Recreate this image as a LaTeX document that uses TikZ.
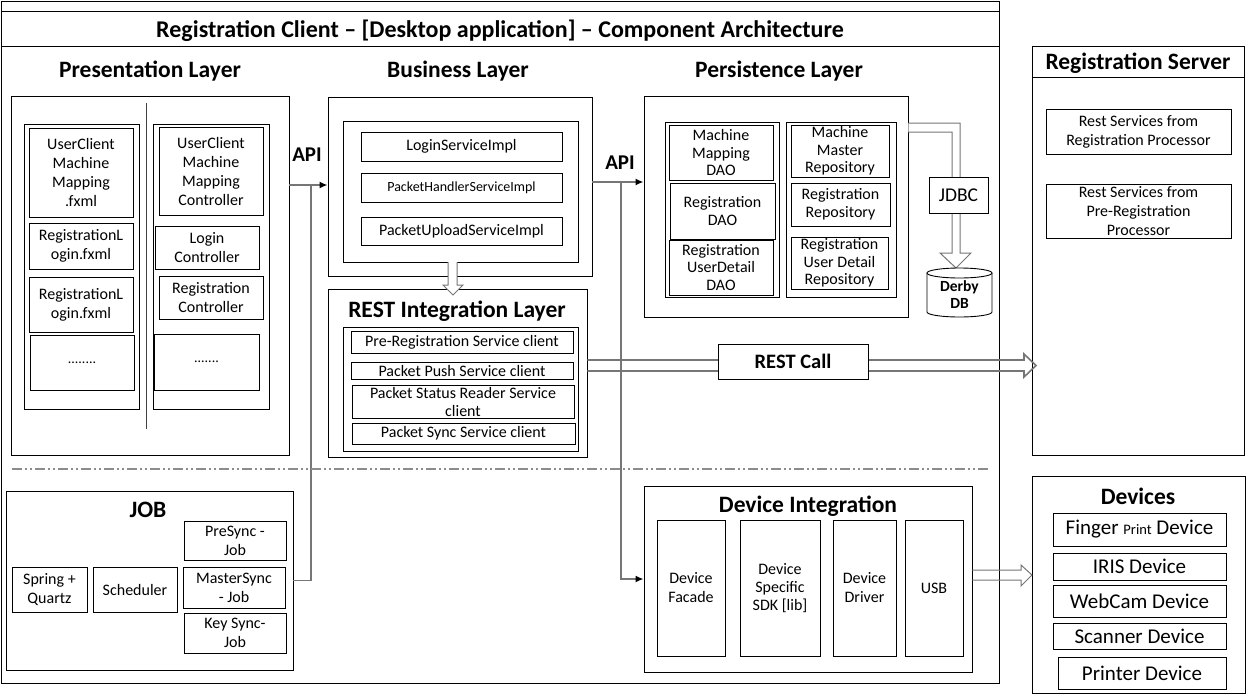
\documentclass[tikz,border=0pt]{standalone}
\usepackage{fontspec}
\setmainfont{Carlito}
\usetikzlibrary{arrows.meta}
\newcommand{\mybox}[7][]{\node[bx,minimum width={(#5-#3)*1pt},minimum height={(#6-#4)*1pt},#1] (#2) at ({(#3+#5)/2},{(#4+#6)/2}) {#7};}
\begin{document}
\begin{tikzpicture}[x=1pt,y=-1pt,
  bx/.style={draw=black, line width=0.9pt, inner sep=0pt, align=center, font=\fontsize{16}{19}\selectfont},
  hd/.style={inner sep=0pt, text depth=0pt, font=\bfseries\fontsize{23.5}{26}\selectfont},
  titlef/.style={text depth=0pt, font=\bfseries\fontsize{24}{26}\selectfont},
  apif/.style={inner sep=0pt, font=\bfseries\fontsize{21}{23}\selectfont},
  dvf/.style={font=\fontsize{21}{23}\selectfont},
  pf/.style={font=\fontsize{16}{17.5}\selectfont},
  conn/.style={draw={rgb,255:red,118;green,118;blue,118}, line width=1.6pt},
  hollow/.style={draw={rgb,255:red,118;green,118;blue,118}, line width=1pt, line join=miter},
  tip/.style={-{Latex[black,length=8pt,width=7pt]}}
]
\useasboundingbox (0,0) rectangle (1247,699);
\fill[white] (0,0) rectangle (1247,699);

% ---------- client frame ----------
\mybox{client}{1}{1}{999}{683}{}
\mybox[titlef]{titlebar}{1}{11}{999}{46}{Registration Client – [Desktop application] – Component Architecture}

\node[hd] (ptitle) at (150,69) {Presentation Layer};
\node[hd] (btitle) at (458,69) {Business Layer};
\node[hd] (stitle) at (779,69) {Persistence Layer};

% ---------- presentation ----------
\mybox{pres}{11}{96}{289}{455}{}
\mybox{pleft}{24}{124}{139}{409}{}
\mybox{pright}{153}{124}{269}{409}{}
\draw[line width=0.9pt, black!75] (146,103) -- (146,429);
\mybox{ucm}{29}{128}{133}{217}{UserClient\\Machine\\Mapping\\.fxml}
\mybox{rlA}{29}{223}{133}{269}{RegistrationL\\ogin.fxml}
\mybox{rlB}{29}{277}{133}{332}{RegistrationL\\ogin.fxml}
\mybox[font=\fontsize{14}{16}\selectfont]{pdotsA}{30}{335}{134}{390}{........}
\mybox{ucmc}{159}{127}{263}{215}{UserClient\\Machine\\Mapping\\Controller}
\mybox{lc}{155}{226}{259}{269}{Login\\Controller}
\mybox{rc}{159}{276}{263}{319}{Registration\\Controller}
\mybox[font=\fontsize{14}{16}\selectfont]{pdotsB}{154}{334}{259}{390}{.......}

% ---------- business ----------
\mybox{bus}{328}{97}{592}{276}{}
\mybox{busin}{343}{121}{578}{262}{}
\mybox{lsi}{361}{132}{562}{161}{LoginServiceImpl}
\mybox[font=\fontsize{14}{16}\selectfont]{phsi}{361}{173}{562}{202}{PacketHandlerServiceImpl}
\mybox{pusi}{361}{217}{562}{245}{PacketUploadServiceImpl}

% ---------- REST integration ----------
\mybox{rest}{328}{289}{587}{457}{}
\node[hd] (resttitle) at (457,309) {REST Integration Layer};
\mybox{restin}{343}{327}{578}{451}{}
\mybox{prsc}{351}{331}{573}{353}{Pre-Registration Service client}
\mybox{ppsc}{351}{362}{573}{379}{Packet Push Service client}
\mybox[font=\fontsize{16}{18}\selectfont]{psrsc}{352}{385}{574}{418}{Packet Status Reader Service\\client}
\mybox{pssc}{352}{423}{575}{444}{Packet Sync Service client}

% down hollow arrow business -> REST
\draw[hollow, fill=white] (448,262) -- (448,285) -- (443,285) -- (453,295) -- (463,285) -- (457,285) -- (457,262);

% ---------- persistence ----------
\mybox{pers}{644}{96}{908}{317}{}
\mybox{dcol}{665}{122}{779}{297}{}
\mybox[pf]{mmd}{669}{125}{773}{180}{Machine\\Mapping\\DAO}
\mybox[pf]{rd}{670}{183}{775}{239}{Registration\\DAO}
\mybox[pf]{rud}{669}{240}{773}{295}{Registration\\UserDetail\\DAO}
\mybox{rcol}{786}{122}{896}{297}{}
\mybox[pf]{mmr}{791}{125}{889}{177}{Machine\\Master\\Repository}
\mybox[pf]{rr}{791}{183}{890}{226}{Registration\\Repository}
\mybox[pf]{rudr}{791}{237}{888}{289}{Registration\\User Detail\\Repository}

% JDBC hollow arrow
\coordinate (jdA) at (0,123);
\coordinate (jdB) at (0,132);
\draw[hollow, fill=white] (pers.east |- jdA) -- (960,123) -- (960,253) -- (971,253) -- (956,268) -- (940,253) -- (952,253) -- (952,132) -- (pers.east |- jdB);
\mybox[fill=white, font=\fontsize{19.5}{21}\selectfont]{jdbc}{929}{177}{988}{213}{JDBC}

% Derby DB cylinder
\draw[line width=0.9pt, fill=white] (927,273) -- (927,312) arc[start angle=180, end angle=360, x radius=32.5pt, y radius=5pt] -- (992,273);
\draw[line width=0.9pt, fill=white] (959.5,273) ellipse [x radius=32.5pt, y radius=5pt];
\node[align=center, inner sep=0pt, font=\bfseries\fontsize{15.5}{17}\selectfont] (db) at (959.5,295) {Derby\\DB};

% ---------- API connectors ----------
\node[apif] (apiA) at (307,155) {API};
\node[apif] (apiB) at (620,163) {API};
\coordinate (aA) at (0,185);
\coordinate (jA) at (311,185);
\coordinate (aB) at (0,182);
\coordinate (jB) at (621,182);

% ---------- JOB ----------
\mybox{job}{6}{491}{293}{670}{}
\node[hd] (jobt) at (148,510) {JOB};
\mybox{sq}{12}{567}{87}{612}{Spring +\\Quartz}
\mybox{sch}{93}{567}{177}{612}{Scheduler}
\mybox{psj}{184}{521}{286}{560}{PreSync -\\Job}
\mybox{msj}{183}{567}{285}{608}{MasterSync\\- Job}
\mybox{ksj}{184}{613}{286}{653}{Key Sync-\\Job}

\draw[conn] (job.east) -| (jA);
\draw[conn, tip] (pres.east |- aA) -- (bus.west |- aA);

% ---------- device integration ----------
\mybox{dev}{644}{486}{972}{672}{}
\node[hd] (devt) at (808,504) {Device Integration};
\mybox{df}{657}{520}{725}{656}{Device\\Facade}
\mybox[font=\fontsize{16}{18}\selectfont]{dsdk}{740}{520}{820}{656}{Device\\Specific\\SDK [lib]}
\mybox{dd}{833}{520}{896}{656}{Device\\Driver}
\mybox{usb}{905}{520}{963}{656}{USB}

\draw[conn, tip] (bus.east |- aB) -- (pers.west |- aB);
\draw[conn, tip] (jB) |- (dev.west);

% separator
\draw[draw={rgb,255:red,140;green,140;blue,140}, line width=1.3pt, dash pattern=on 10pt off 3pt on 2pt off 3pt on 2pt off 3pt] (12,469) -- (990,469);

% ---------- server ----------
\mybox{srv}{1032}{46}{1244}{455}{}
\mybox[hd, draw, line width=0.9pt]{srvt}{1032}{46}{1244}{77}{Registration Server}
\mybox[font=\fontsize{16}{19}\selectfont]{rsrp}{1046}{109}{1231}{154}{Rest Services from\\Registration Processor}
\mybox[font=\fontsize{16}{19}\selectfont]{rsprp}{1046}{184}{1231}{238}{Rest Services from\\Pre-Registration\\Processor}

% REST call double arrow
\coordinate (rcA) at (0,360);
\coordinate (rcB) at (0,371);
\draw[hollow, line width=1.6pt] (rest.east |- rcA) -- (1024,360) -- (1024,354) -- (1036,365.5) -- (1024,377) -- (1024,371) -- (rest.east |- rcB);
\mybox[fill=white, font=\bfseries\fontsize{20.5}{22}\selectfont]{restcall}{718}{344}{868}{379}{REST Call}

% ---------- devices ----------
\mybox{devs}{1032}{476}{1245}{693}{}
\node[hd] (devst) at (1138,496) {Devices};
\mybox[dvf]{fpd}{1053}{513}{1226}{546}{Finger {\fontsize{14.5}{16}\selectfont Print} Device}
\mybox[dvf]{iris}{1053}{553}{1226}{580}{IRIS Device}
\mybox[dvf]{webcam}{1053}{585}{1226}{617}{WebCam Device}
\mybox[dvf]{scan}{1053}{623}{1226}{649}{Scanner Device}
\mybox[dvf]{prt}{1058}{657}{1226}{689}{Printer Device}

% device -> devices hollow arrow
\coordinate (dvA) at (0,570);
\coordinate (dvB) at (0,580);
\draw[hollow] (dev.east |- dvA) -- (1021,570) -- (1021,565) -- (1032,575) -- (1021,586) -- (1021,580) -- (dev.east |- dvB);
\end{tikzpicture}
\end{document}
